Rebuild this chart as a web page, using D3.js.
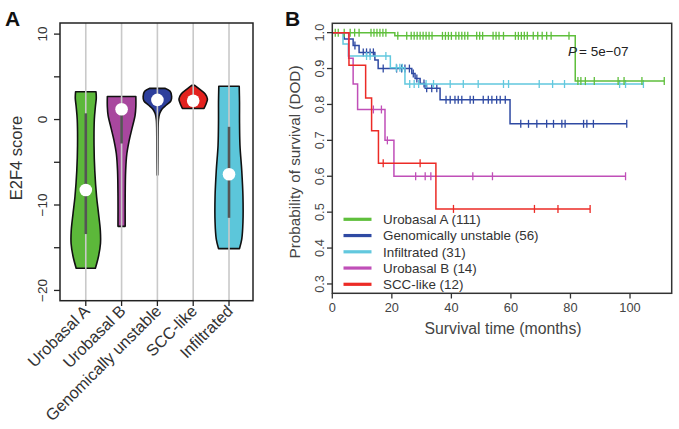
<!DOCTYPE html>
<html><head><meta charset="utf-8">
<script src="https://cdn.jsdelivr.net/npm/d3@7"></script>
<style>
body{margin:0;background:#fff}
svg{display:block;font-family:"Liberation Sans",Arial,Helvetica,sans-serif}
</style>
</head><body>
<svg id="chart" width="679" height="429"></svg>
<script>
// ---------- Panel A data ----------
const violinGroups = ["Urobasal A", "Urobasal B", "Genomically unstable", "SCC-like", "Infiltrated"];
const violinColors = ["#5cb83a", "#a8479e", "#2d3f9c", "#e3221f", "#5cc6da"];
// density profiles: [E2F4 score, relative half-width]
const profileUrobasalA = [[3.25,0.68],[2.5,0.7],[1.5,0.64],[0,0.57],[-3,0.55],[-6,0.6],[-9,0.72],[-11,0.85],[-13,0.97],[-14.5,0.98],[-16,0.85],[-17.4,0.64]];
const profileUrobasalB = [[2.7,0.95],[1.5,0.95],[0.5,0.9],[-1,0.7],[-2.5,0.5],[-4,0.35],[-6,0.27],[-9,0.24],[-12.5,0.24]];
const profileGenUnstable = [[3.65,0.5],[3.3,0.85],[2.7,0.95],[2.2,0.9],[1.7,0.6],[1.2,0.3],[0.7,0.15],[0,0.07],[-2,0.04],[-4,0.035],[-6.5,0.02]];
const profileSCC = [[4.0,0.1],[3.6,0.4],[3.0,0.8],[2.4,0.95],[1.8,0.85],[1.3,0.72]];
const profileInfiltrated = [[3.9,0.68],[2,0.7],[0,0.7],[-3,0.73],[-6,0.85],[-9,0.93],[-12,0.93],[-14,0.85],[-15.1,0.7]];
const violinProfiles = [profileUrobasalA, profileUrobasalB, profileGenUnstable, profileSCC, profileInfiltrated];
const violinMedians = [-8.25, 1.2, 2.3, 2.2, -6.4];
const violinQ3 = [0.73, 1.9, 2.8, 2.7, -0.85];
const violinQ1 = [-13.4, -2.8, 1.6, 1.7, -11.5];
const scoreTicks = [10, 5, 0, -5, -10, -15, -20];
const scoreLabels = [10, 0, -10, -20];

// ---------- Panel B data ----------
const kmGroups = ["Urobasal A (111)", "Genomically unstable (56)", "Infiltrated (31)", "Urobasal B (14)", "SCC-like (12)"];
const kmColors = ["#5fbf3c", "#2f4aa3", "#62c8de", "#c04fb8", "#ec2b26"];
// events: [time (months), survival after event]
const kmEventsUrobasalA = [[21, 0.991], [81.6, 0.865]];
const kmEventsGenUnstable = [[4, 0.982], [7, 0.964], [9, 0.945], [14.3, 0.924], [15.4, 0.90], [26.7, 0.886], [27.8, 0.872], [29.5, 0.858], [31.2, 0.845], [36.2, 0.813], [59.7, 0.746]];
const kmEventsInfiltrated = [[3.6, 0.968], [5.4, 0.935], [19.5, 0.902], [24.4, 0.857]];
const kmEventsUrobasalB = [[5.5, 0.929], [7, 0.857], [8.5, 0.786], [17.7, 0.70], [20.7, 0.60]];
const kmEventsSCC = [[5.6, 0.909], [11.2, 0.818], [13.2, 0.727], [15.5, 0.636], [34.8, 0.509]];
const kmEvents = [kmEventsUrobasalA, kmEventsGenUnstable, kmEventsInfiltrated, kmEventsUrobasalB, kmEventsSCC];
// censoring times (months)
const kmCensorUrobasalA = [1, 2, 4, 6, 7.5, 9, 13, 14, 15, 16, 17, 18, 22, 25, 26.5, 27.5, 28.5, 29.5, 30.5, 31.5, 32.5, 33.5, 37, 38, 39, 40, 41.5, 42.5, 43.5, 44.5, 45.5, 48.5, 49.5, 50.5, 54, 55, 56, 57.5, 61.5, 62.5, 63.5, 64.5, 65.5, 67.5, 69, 70.5, 72, 73.5, 79.5, 82.5, 83.5, 85, 88, 96, 98, 104, 111.5];
const kmCensorGenUnstable = [7.6, 10.4, 11.5, 12.7, 13.8, 17.1, 21.6, 23.3, 24.4, 25.9, 27.2, 28.4, 30.8, 31.7, 33.4, 35.1, 38.2, 39.6, 41.2, 42.3, 43.5, 46.3, 47.4, 50.7, 52.4, 53.6, 55.2, 56.4, 58.1, 63.3, 65.9, 68.7, 72, 74.3, 77.1, 78.2, 84.4, 85.5, 87.7, 98.9];
const kmCensorInfiltrated = [11.5, 12.7, 18, 21.5, 22.7, 23.5, 26, 27.5, 29, 31.5, 34, 39.6, 44, 49, 57.5, 59.2, 69.5, 74, 78, 96.5, 98.5, 104.5];
const kmCensorUrobasalB = [13.8, 16.5, 18.5, 28, 31.2, 33.1, 47.2, 53.8, 98.5];
const kmCensorSCC = [17.1, 29.5, 40.7, 67.9, 75.8, 86.6];
const kmCensor = [kmCensorUrobasalA, kmCensorGenUnstable, kmCensorInfiltrated, kmCensorUrobasalB, kmCensorSCC];
const survTicks = [0.3, 0.4, 0.5, 0.6, 0.7, 0.8, 0.9, 1.0];
const timeTicks = [0, 20, 40, 60, 80, 100];
const pValueText = "= 5e\u221207";

const svg = d3.select("#chart");
const minus = v => String(v).replace("-", "\u2212");

// ================= Panel A =================
const ax = d3.scaleLinear().domain([0.28, 5.67]).range([60, 253]);
const ay = d3.scaleLinear().domain([11.3, -21.2]).range([23, 300.7]);
const aw = d3.scaleLinear().domain([0, 1]).range([0, 15]);
const gA = svg.append("g");

violinGroups.forEach((g, i) => {
  const cx = ax(i + 1);
  const area = d3.area()
    .y(d => ay(d[0]))
    .x0(d => cx - aw(d[1]))
    .x1(d => cx + aw(d[1]))
    .curve(d3.curveCatmullRom.alpha(0.5));
  gA.append("path").attr("d", area(violinProfiles[i]))
    .attr("fill", violinColors[i]).attr("stroke", "#111").attr("stroke-width", 1.6)
    .attr("stroke-linejoin", "round");
});
// grid lines
violinGroups.forEach((g, i) => {
  gA.append("line").attr("x1", ax(i + 1)).attr("x2", ax(i + 1))
    .attr("y1", 23).attr("y2", 300.7)
    .attr("stroke", "#c9c9c9").attr("stroke-width", 1.6);
});
// boxes + medians
violinGroups.forEach((g, i) => {
  const cx = ax(i + 1);
  gA.append("line").attr("x1", cx).attr("x2", cx)
    .attr("y1", ay(violinQ3[i])).attr("y2", ay(violinQ1[i]))
    .attr("stroke", "#555").attr("stroke-width", 2.6);
  gA.append("circle").attr("cx", cx).attr("cy", ay(violinMedians[i])).attr("r", 6.3).attr("fill", "#fff");
});
// frame
gA.append("rect").attr("x", 60).attr("y", 23).attr("width", 193).attr("height", 277.7)
  .attr("fill", "none").attr("stroke", "#222").attr("stroke-width", 1.5);
// y axis ticks
scoreTicks.forEach(t => {
  gA.append("line").attr("x1", 54).attr("x2", 60).attr("y1", ay(t)).attr("y2", ay(t))
    .attr("stroke", "#222").attr("stroke-width", 1.3);
});
scoreLabels.forEach(t => {
  gA.append("text").attr("transform", `translate(47,${ay(t)}) rotate(-90)`)
    .attr("text-anchor", "middle").attr("font-size", 13.5).attr("fill", "#333").text(minus(t));
});
// x ticks + labels
violinGroups.forEach((g, i) => {
  const cx = ax(i + 1);
  gA.append("line").attr("x1", cx).attr("x2", cx).attr("y1", 300.7).attr("y2", 306)
    .attr("stroke", "#222").attr("stroke-width", 1.3);
  gA.append("text").attr("transform", `translate(${cx + 5},${312}) rotate(-45)`)
    .attr("text-anchor", "end").attr("font-size", 16.3).attr("fill", "#333").text(g);
});
gA.append("text").attr("transform", "translate(22,158) rotate(-90)")
  .attr("text-anchor", "middle").attr("font-size", 16.5).attr("fill", "#333").text("E2F4 score");
svg.append("text").attr("x", 5).attr("y", 26).attr("font-size", 21).attr("font-weight", "bold").attr("fill", "#111").text("A");

// ================= Panel B =================
const bx = d3.scaleLinear().domain([0, 114]).range([332.3, 671.7]);
const by = d3.scaleLinear().domain([0.274, 1.026]).range([293.3, 23.3]);
const gB = svg.append("g");
const surv = (ev, t) => { let s = 1; ev.forEach(e => { if (e[0] <= t) s = e[1]; }); return s; };
const drawOrder = [1, 2, 0, 3, 4];
drawOrder.forEach(i => {
  const ev = kmEvents[i];
  const end = d3.max(kmCensor[i]);
  const pts = [[0, 1], ...ev, [end, ev[ev.length - 1][1]]];
  const line = d3.line().x(d => bx(d[0])).y(d => by(d[1])).curve(d3.curveStepAfter);
  gB.append("path").attr("d", line(pts)).attr("fill", "none")
    .attr("stroke", kmColors[i]).attr("stroke-width", 1.5);
  kmCensor[i].forEach(t => {
    const yy = by(surv(ev, t));
    gB.append("line").attr("x1", bx(t)).attr("x2", bx(t)).attr("y1", yy - 4).attr("y2", yy + 4)
      .attr("stroke", kmColors[i]).attr("stroke-width", 1.3);
  });
});
// frame
gB.append("rect").attr("x", 332.3).attr("y", 23.3).attr("width", 339.4).attr("height", 270)
  .attr("fill", "none").attr("stroke", "#333").attr("stroke-width", 1.5);
// y ticks
survTicks.forEach(t => {
  gB.append("line").attr("x1", 327).attr("x2", 332.3).attr("y1", by(t)).attr("y2", by(t))
    .attr("stroke", "#333").attr("stroke-width", 1.3);
  gB.append("text").attr("transform", `translate(${324},${by(t)}) rotate(-90)`)
    .attr("text-anchor", "middle").attr("font-size", 12.8).attr("fill", "#444").text(d3.format(".1f")(t));
});
// x ticks
timeTicks.forEach(t => {
  gB.append("line").attr("x1", bx(t)).attr("x2", bx(t)).attr("y1", 293.3).attr("y2", 298.5)
    .attr("stroke", "#333").attr("stroke-width", 1.3);
  gB.append("text").attr("x", bx(t)).attr("y", 311.5)
    .attr("text-anchor", "middle").attr("font-size", 12.8).attr("fill", "#444").text(t);
});
gB.append("text").attr("x", 503).attr("y", 334).attr("text-anchor", "middle")
  .attr("font-size", 15.8).attr("fill", "#444").text("Survival time (months)");
gB.append("text").attr("transform", "translate(300,162) rotate(-90)")
  .attr("text-anchor", "middle").attr("font-size", 15.3).attr("fill", "#444").text("Probability of survival (DOD)");
// legend
kmGroups.forEach((g, i) => {
  const yy = 219.3 + i * 16.25;
  gB.append("line").attr("x1", 343.5).attr("x2", 371.5).attr("y1", yy).attr("y2", yy)
    .attr("stroke", kmColors[i]).attr("stroke-width", 3.2);
  gB.append("text").attr("x", 383).attr("y", yy + 4.8).attr("font-size", 13.4).attr("fill", "#333").text(g);
});
// p-value
const pt = gB.append("text").attr("x", 568).attr("y", 55.5).attr("font-size", 13.5).attr("fill", "#222");
pt.append("tspan").attr("font-style", "italic").text("P");
pt.append("tspan").attr("dx", 2).text(pValueText);
svg.append("text").attr("x", 285).attr("y", 26).attr("font-size", 21).attr("font-weight", "bold").attr("fill", "#111").text("B");
</script>
</body></html>
